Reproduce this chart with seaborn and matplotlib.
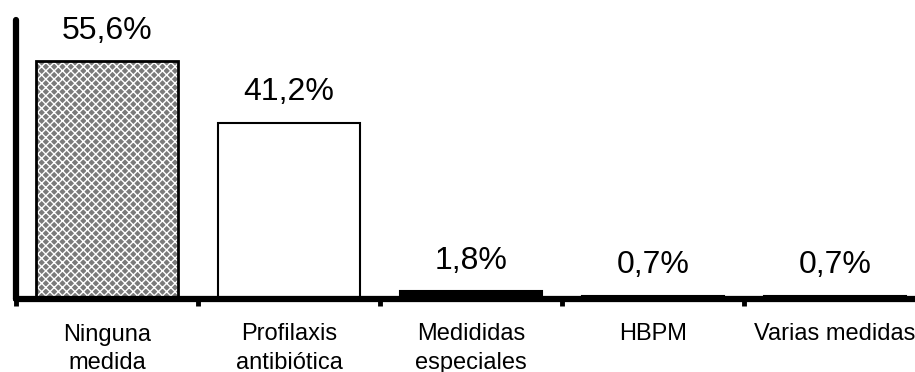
import matplotlib
matplotlib.use("Agg")
import matplotlib.pyplot as plt
import seaborn as sns
from matplotlib.patches import Rectangle

# Data
categories = ["Ninguna\nmedida", "Profilaxis\nantibiótica", "Medididas\nespeciales",
              "HBPM", "Varias medidas"]
values = [55.6, 41.2, 1.8, 0.7, 0.7]
value_labels = ["55,6%", "41,2%", "1,8%", "0,7%", "0,7%"]

sns.set_theme(style="white")
plt.rcParams['font.family'] = ['Liberation Sans', 'DejaVu Sans']

fig = plt.figure(figsize=(9.15, 3.72), dpi=100)
ax = fig.add_axes([16 / 915, 73.5 / 372, 910 / 915, 278.5 / 372])

sns.barplot(x=categories, y=values, color='white', edgecolor='black',
            linewidth=1.5, width=0.775, saturation=1, ax=ax)

# first bar: grey crosshatch with black frame
p0 = ax.patches[0]
p0.set_facecolor('#7a7a7a')
p0.set_edgecolor('white')
p0.set_hatch('xxxx')
p0.set_linewidth(0)
ax.add_patch(Rectangle(p0.get_xy(), p0.get_width(), p0.get_height(),
                       fill=False, edgecolor='black', linewidth=2, zorder=p0.get_zorder() + 0.1))
# the thin third bar renders as a solid black strip in the original
ax.patches[2].set_facecolor('black')

for i, (v, lab) in enumerate(zip(values, value_labels)):
    ax.annotate(lab, (i, v), xytext=(0, 16), textcoords='offset points',
                ha='center', va='baseline', fontsize=23, color='black')

ax.set_xlim(-0.5, 4.5)
ax.set_ylim(0, 65.2)
ax.set_yticks([])
ax.set_xticks(range(len(categories)))
ax.set_xticklabels(categories, fontsize=17, linespacing=1.4, color='black')
ax.tick_params(axis='x', which='major', bottom=True, length=0, pad=18)
ax.set_xticks([i - 0.5 for i in range(len(categories) + 1)], minor=True)
ax.tick_params(axis='x', which='minor', bottom=True, direction='out',
               length=5, width=3.5, color='black')
ax.set_xlabel('')
ax.set_ylabel('')

for side in ['top', 'right']:
    ax.spines[side].set_visible(False)
for side in ['left', 'bottom']:
    ax.spines[side].set_color('black')
    ax.spines[side].set_linewidth(4.5)
    ax.spines[side].set_capstyle('round')

fig.savefig('out.png', dpi=100)
